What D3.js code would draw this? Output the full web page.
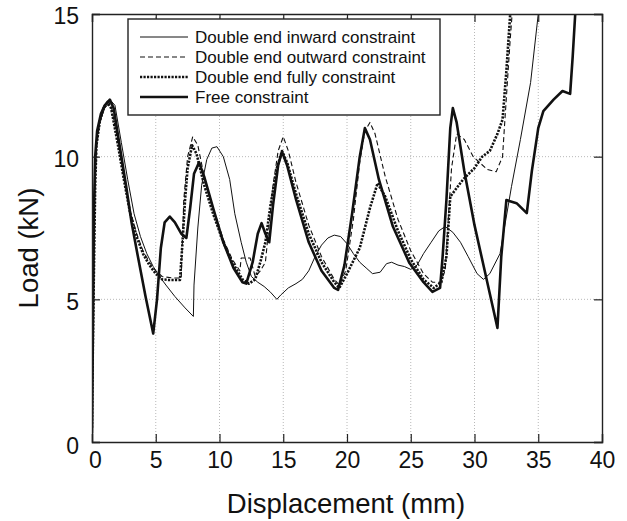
<!DOCTYPE html>
<html>
<head>
<meta charset="utf-8">
<script src="https://cdn.jsdelivr.net/npm/d3@7"></script>
<style>
	html, body {
		margin: 0;
		padding: 0;
		background: #fff;
	}
	svg text {
		font-family: 'Liberation Sans', Arial, sans-serif;
		fill: #111;
	}
</style>
</head>
<body>
<div id="chart"></div>
<script>
// series data [displacement mm, load kN]
var inwardData = [[0, 0.3], [0.1, 5], [0.2, 9], [0.35, 10.5], [0.6, 11.2], [1.0, 11.7], [1.5, 11.95], [1.8, 11.8], [2.3, 10.5], [2.8, 9.2], [3.3, 8.0], [3.8, 7.2], [4.3, 6.6], [4.8, 6.15], [5.3, 5.8], [5.8, 5.5], [6.5, 5.1], [7.3, 4.7], [7.95, 4.4], [8.0, 5.5], [8.3, 7.5], [8.6, 9.0], [9.0, 9.9], [9.4, 10.3], [9.8, 10.35], [10.3, 10.0], [10.8, 9.2], [11.2, 8.0], [11.7, 7.0], [12.1, 6.3], [12.5, 5.8], [13.0, 5.6], [13.5, 5.45], [14.0, 5.25], [14.5, 5.0], [14.8, 5.15], [15.4, 5.4], [16, 5.55], [16.5, 5.7], [17.0, 6.0], [17.5, 6.5], [18, 6.9], [18.5, 7.15], [19.0, 7.25], [19.5, 7.2], [20, 6.95], [20.5, 6.6], [21.0, 6.3], [21.5, 6.1], [22, 5.9], [22.6, 5.95], [23.1, 6.25], [23.5, 6.3], [24, 6.2], [24.5, 6.15], [25, 6.05], [25.5, 6.2], [26, 6.6], [26.6, 7.0], [27.2, 7.4], [27.7, 7.55], [28.3, 7.35], [28.9, 7.0], [29.5, 6.5], [30.2, 5.9], [30.7, 5.7], [31.2, 5.9], [32.0, 6.6], [32.9, 8.95], [33.6, 10.6], [34.4, 12.6], [35.0, 15]];

var outwardData = [[0, 0.5], [0.1, 5], [0.2, 8.5], [0.35, 10.3], [0.6, 11.2], [0.9, 11.7], [1.2, 11.95], [1.5, 11.8], [2.0, 10.6], [2.5, 9.3], [3.0, 8.1], [3.5, 7.3], [4.0, 6.7], [4.5, 6.3], [5.0, 6.0], [5.5, 5.8], [6.3, 5.75], [7.0, 5.75], [7.05, 6.5], [7.2, 8.5], [7.5, 10.0], [7.9, 10.7], [8.3, 10.4], [8.8, 9.3], [9.5, 8.2], [10.3, 7.1], [11.0, 6.4], [11.6, 6.0], [11.7, 6.45], [12.4, 6.45], [12.8, 5.8], [13.2, 6.0], [13.6, 6.3], [13.8, 7.2], [14.2, 9.0], [14.6, 10.2], [15.0, 10.7], [15.4, 10.2], [16, 9.1], [17, 7.6], [18, 6.5], [19.0, 5.7], [19.4, 5.5], [19.9, 6.0], [20.5, 7.8], [21.0, 9.8], [21.4, 10.9], [21.8, 11.2], [22.2, 10.8], [23, 9.3], [24, 7.8], [25, 6.7], [26, 5.9], [26.7, 5.6], [27.3, 5.6], [27.7, 6.0], [27.9, 7.5], [28.2, 9.6], [28.6, 10.8], [29.2, 10.6], [29.9, 10.0], [31.0, 9.55], [31.7, 9.47], [32.2, 10.0], [32.4, 11.4], [32.8, 14.1], [32.95, 15]];

var fullyData = [[0, 0.5], [0.05, 2.8], [0.15, 6], [0.25, 9], [0.35, 10.4], [0.6, 11.2], [0.9, 11.7], [1.2, 11.9], [1.5, 11.7], [2.0, 10.5], [2.5, 9.2], [3.0, 8.0], [3.5, 7.2], [4.0, 6.6], [4.5, 6.2], [5.0, 5.9], [5.5, 5.7], [6.0, 5.68], [6.9, 5.68], [7.1, 7.0], [7.3, 8.5], [7.5, 9.6], [7.85, 10.4], [8.2, 10.1], [8.8, 9.0], [9.5, 8.0], [10.3, 7.0], [11.0, 6.3], [11.8, 5.7], [12.3, 5.55], [12.8, 5.7], [13.2, 6.3], [13.6, 7.0], [14.0, 8.3], [14.5, 9.6], [14.9, 10.2], [15.3, 9.8], [16, 8.7], [17, 7.3], [18, 6.3], [19.0, 5.6], [19.4, 5.4], [20, 5.9], [21, 6.8], [21.8, 8.2], [22.4, 9.07], [23, 8.6], [24, 7.4], [25, 6.4], [26, 5.7], [26.8, 5.4], [27.4, 5.6], [27.8, 6.5], [28.1, 8.6], [29.1, 9.2], [30, 9.6], [30.6, 10.0], [31.2, 10.2], [31.8, 10.8], [32.2, 11.3], [32.5, 13], [32.8, 15]];

var freeData = [[0, 0.3], [0.05, 3], [0.15, 8], [0.25, 10], [0.4, 10.9], [0.7, 11.5], [1.0, 11.8], [1.4, 12.0], [1.7, 11.7], [2.2, 10.3], [2.7, 8.9], [3.1, 7.7], [3.6, 6.5], [4.2, 5.1], [4.8, 3.8], [5.1, 5.0], [5.4, 6.8], [5.7, 7.7], [6.1, 7.9], [6.5, 7.7], [7.0, 7.3], [7.4, 7.15], [7.7, 8.2], [8.0, 9.4], [8.4, 9.8], [8.8, 9.3], [9.5, 8.2], [10.3, 7.0], [11.1, 6.1], [11.8, 5.6], [12.1, 5.55], [12.6, 6.3], [13.0, 7.3], [13.3, 7.67], [13.6, 7.3], [13.9, 7.0], [14.2, 8.3], [14.6, 9.7], [14.9, 10.17], [15.3, 9.7], [16, 8.5], [17, 7.0], [18, 6.0], [19.0, 5.4], [19.3, 5.33], [19.8, 6.2], [20.4, 8.0], [21.0, 10.0], [21.4, 11.0], [21.8, 10.6], [22.5, 9.2], [23.6, 7.55], [24.9, 6.27], [26.0, 5.6], [26.7, 5.26], [27.3, 5.4], [27.5, 6.5], [27.8, 8.5], [28.1, 11.0], [28.3, 11.7], [28.6, 11.2], [29.2, 9.5], [30, 7.6], [30.8, 6.0], [31.4, 4.8], [31.8, 4.0], [32.1, 6.5], [32.5, 8.48], [33.3, 8.37], [34.1, 8.02], [34.5, 9.5], [35.0, 11.0], [35.4, 11.6], [36.2, 12.0], [36.9, 12.3], [37.5, 12.2], [37.7, 13.5], [37.9, 15]];

var seriesNames = ['Double end inward constraint', 'Double end outward constraint', 'Double end fully constraint', 'Free constraint'];
var xTicks = [0, 5, 10, 15, 20, 25, 30, 35, 40];
var yTicks = [0, 5, 10, 15];

initChart();

// chart init
function initChart() {
	var width = 627;
	var height = 521;
	var margin = {
		top: 14,
		right: 25,
		bottom: 79,
		left: 92
	};
	var innerW = width - margin.left - margin.right;
	var innerH = height - margin.top - margin.bottom;
	var tickLen = 8;

	var styles = [
		{ width: 1, dash: null },
		{ width: 1.1, dash: '5,3' },
		{ width: 2.6, dash: '2.2,1.3' },
		{ width: 2.6, dash: null }
	];
	var allData = [inwardData, outwardData, fullyData, freeData];

	var xScale = d3.scaleLinear().domain([0, 40]).range([0, innerW]);
	var yScale = d3.scaleLinear().domain([0, 15]).range([innerH, 0]);

	var svg = d3.select('#chart')
		.append('svg')
		.attr('width', width)
		.attr('height', height);

	svg.append('defs')
		.append('clipPath')
		.attr('id', 'plot-clip')
		.append('rect')
		.attr('width', innerW)
		.attr('height', innerH);

	var wrapper = svg.append('g')
		.attr('transform', 'translate(' + margin.left + ',' + margin.top + ')');

	// grid
	wrapper.append('g')
		.attr('class', 'grid')
		.selectAll('line.gx')
		.data(xTicks.slice(1, -1))
		.enter()
		.append('line')
		.attr('x1', function(d) { return xScale(d); })
		.attr('x2', function(d) { return xScale(d); })
		.attr('y1', 0)
		.attr('y2', innerH)
		.attr('stroke', '#b8b8b8')
		.attr('stroke-width', 1)
		.attr('stroke-dasharray', '1,2');

	wrapper.append('g')
		.attr('class', 'grid')
		.selectAll('line.gy')
		.data(yTicks.slice(1, -1))
		.enter()
		.append('line')
		.attr('y1', function(d) { return yScale(d); })
		.attr('y2', function(d) { return yScale(d); })
		.attr('x1', 0)
		.attr('x2', innerW)
		.attr('stroke', '#b8b8b8')
		.attr('stroke-width', 1)
		.attr('stroke-dasharray', '1,2');

	// series lines
	var line = d3.line()
		.x(function(d) { return xScale(d[0]); })
		.y(function(d) { return yScale(d[1]); });

	var linesHolder = wrapper.append('g')
		.attr('clip-path', 'url(#plot-clip)');

	allData.forEach(function(data, i) {
		linesHolder.append('path')
			.datum(data)
			.attr('d', line)
			.attr('fill', 'none')
			.attr('stroke', '#111')
			.attr('stroke-width', styles[i].width)
			.attr('stroke-dasharray', styles[i].dash)
			.attr('stroke-linejoin', 'round');
	});

	// axes with inward ticks
	var xAxis = wrapper.append('g')
		.attr('transform', 'translate(0,' + innerH + ')')
		.call(d3.axisBottom(xScale).tickValues(xTicks).tickSize(-tickLen).tickPadding(tickLen + 4));

	var xAxisTop = wrapper.append('g')
		.call(d3.axisTop(xScale).tickValues(xTicks).tickSize(-tickLen).tickFormat(''));

	var yAxis = wrapper.append('g')
		.call(d3.axisLeft(yScale).tickValues(yTicks).tickSize(-tickLen).tickPadding(tickLen + 5));

	var yAxisRight = wrapper.append('g')
		.attr('transform', 'translate(' + innerW + ',0)')
		.call(d3.axisRight(yScale).tickValues(yTicks).tickSize(-tickLen).tickFormat(''));

	[xAxis, xAxisTop, yAxis, yAxisRight].forEach(function(ax) {
		ax.select('.domain').attr('stroke', '#222').attr('stroke-width', 1.4);
		ax.selectAll('.tick line').attr('stroke', '#222').attr('stroke-width', 1.2);
	});

	xAxis.selectAll('.tick text')
		.style('font-size', '23px')
		.attr('dy', '0.62em')
		.attr('x', function(d) { return d === 0 ? 3 : 0; });

	yAxis.selectAll('.tick text')
		.style('font-size', '23px')
		.attr('dy', function(d) { return d === 0 ? '0.48em' : '0.42em'; });

	// axis titles
	svg.append('text')
		.attr('x', 346)
		.attr('y', 513)
		.attr('text-anchor', 'middle')
		.style('font-size', '27.5px')
		.text('Displacement (mm)');

	svg.append('text')
		.attr('transform', 'translate(38,248) rotate(-90)')
		.attr('text-anchor', 'middle')
		.style('font-size', '27.5px')
		.text('Load (kN)');

	// legend
	var legend = svg.append('g')
		.attr('transform', 'translate(128,19)');

	legend.append('rect')
		.attr('width', 312)
		.attr('height', 96)
		.attr('fill', '#fff')
		.attr('stroke', '#222')
		.attr('stroke-width', 1.4);

	var items = legend.selectAll('.item')
		.data(seriesNames)
		.enter()
		.append('g')
		.attr('transform', function(d, i) {
			return 'translate(0,' + (18 + i * 20) + ')';
		});

	items.append('line')
		.attr('x1', 12)
		.attr('x2', 60)
		.attr('y1', 0)
		.attr('y2', 0)
		.attr('stroke', '#111')
		.attr('stroke-width', function(d, i) { return styles[i].width; })
		.attr('stroke-dasharray', function(d, i) { return styles[i].dash; });

	items.append('text')
		.attr('x', 67)
		.attr('y', 0)
		.attr('dy', '0.35em')
		.style('font-size', '17px')
		.text(function(d) { return d; });
}
</script>
</body>
</html>
